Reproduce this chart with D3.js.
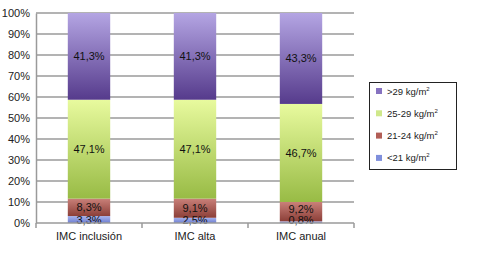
<!DOCTYPE html>
<html><head><meta charset="utf-8">
<script src="https://cdn.jsdelivr.net/npm/d3@7"></script>
<style>body{margin:0;background:#fff}svg{display:block;font-family:"Liberation Sans",Arial,sans-serif}</style>
</head><body><svg id="c" width="485" height="253"></svg>
<script>
const categories = ["IMC inclusión", "IMC alta", "IMC anual"];
const seriesNames = ["<21 kg/m²", "21-24 kg/m²", "25-29 kg/m²", ">29 kg/m²"];
const lt21 = [3.3, 2.5, 0.8];
const s21_24 = [8.3, 9.1, 9.2];
const s25_29 = [47.1, 47.1, 46.7];
const gt29 = [41.3, 41.3, 43.3];
const yTicks = [0,10,20,30,40,50,60,70,80,90,100];
const labels = [["3,3%","2,5%","0,8%"],["8,3%","9,1%","9,2%"],["47,1%","47,1%","46,7%"],["41,3%","41,3%","43,3%"]];

(function(){
const series = [lt21, s21_24, s25_29, gt29];
const colors = [["#a7b3ee","#6f7fd0"],["#c98079","#8c3f38"],["#e8fa9e","#98bb45"],["#b4a5e3","#563b8c"]];
const legendColors = ["#7f8fdc","#b25e56","#cfe88a","#8672c0"];

const svg = d3.select("#c");
const defs = svg.append("defs");
colors.forEach((c,i)=>{
  const g = defs.append("linearGradient").attr("id","g"+i).attr("x1",0).attr("y1",0).attr("x2",0).attr("y2",1);
  g.append("stop").attr("offset","0%").attr("stop-color",c[0]);
  g.append("stop").attr("offset","100%").attr("stop-color",c[1]);
});

const mL=36, mR=354, mT=13, mB=223;
const x = d3.scaleBand().domain(categories).range([mL,mR]);
const y = d3.scaleLinear().domain([0,100]).range([mB,mT]);
const bw = x.bandwidth()*0.4;

svg.append("g").selectAll("line").data(yTicks.filter(t=>t>0)).join("line")
  .attr("x1",mL).attr("x2",mR).attr("y1",d=>y(d)).attr("y2",d=>y(d))
  .attr("stroke","#9a9a9a").attr("stroke-width",1.5);

const stackData = categories.map((c,i)=>{const o={cat:c}; series.forEach((s,j)=>o["s"+j]=s[i]); return o;});
const stack = d3.stack().keys(series.map((s,j)=>"s"+j))(stackData);
stack.forEach((layer,j)=>{
  svg.append("g").selectAll("rect").data(layer).join("rect")
    .attr("x",d=>x(d.data.cat)+x.bandwidth()/2-bw/2).attr("width",bw)
    .attr("y",d=>y(d[1])).attr("height",d=>y(d[0])-y(d[1]))
    .attr("fill","url(#g"+j+")");
});
// label placement with simple collision avoidance (bottom to top)
const prevBase = categories.map(()=>Infinity);
stack.forEach((layer,j)=>{
  const bases = layer.map((d,i)=>{
    let b = Math.min((y(d[0])+y(d[1]))/2, mB-3.5)+4;
    b = Math.min(b, prevBase[i]-11);
    prevBase[i] = b;
    return b;
  });
  svg.append("g").selectAll("text").data(layer).join("text")
    .attr("x",d=>x(d.data.cat)+x.bandwidth()/2)
    .attr("y",(d,i)=>bases[i])
    .attr("text-anchor","middle").attr("font-size",11).attr("fill","#111")
    .text((d,i)=>labels[j][i]);
});

const yAxis = svg.append("g").attr("transform",`translate(${mL},0)`)
  .call(d3.axisLeft(y).tickValues(yTicks).tickFormat(d=>d+"%").tickSize(0).tickPadding(6));
yAxis.select(".domain").attr("stroke","#9a9a9a").attr("stroke-width",1.5);
yAxis.selectAll("text").attr("font-size",11).attr("fill","#222").attr("font-family","Liberation Sans, Arial, sans-serif");

const xg = svg.append("g").attr("transform",`translate(0,${mB})`);
xg.append("line").attr("x1",mL).attr("x2",mR).attr("stroke","#9a9a9a").attr("stroke-width",1.5);
const bounds = categories.map(c=>x(c)).concat([x(categories[categories.length-1])+x.step()]);
xg.selectAll("line.t").data(bounds).join("line").attr("class","t")
  .attr("x1",d=>d).attr("x2",d=>d).attr("y1",0).attr("y2",5).attr("stroke","#9a9a9a").attr("stroke-width",1.5);
xg.selectAll("text").data(categories).join("text")
  .attr("x",d=>x(d)+x.bandwidth()/2).attr("y",17).attr("text-anchor","middle")
  .attr("font-size",11).attr("fill","#222").text(d=>d);

const lg = svg.append("g");
lg.append("rect").attr("x",369.5).attr("y",82.5).attr("width",87).attr("height",87)
  .attr("fill","#fff").attr("stroke","#222").attr("stroke-width",1);
const order = [3,2,1,0];
order.forEach((j,k)=>{
  const yy = 91 + k*22.3;
  lg.append("rect").attr("x",376).attr("y",yy-3).attr("width",6).attr("height",6).attr("fill",legendColors[j]);
  const t = lg.append("text").attr("x",387).attr("y",yy+3.5).attr("font-size",9.5).attr("fill","#222");
  const name = seriesNames[j].replace("²","");
  t.append("tspan").text(name);
  t.append("tspan").attr("font-size",6).attr("dy",-4).text("2");
});
})();
</script></body></html>
